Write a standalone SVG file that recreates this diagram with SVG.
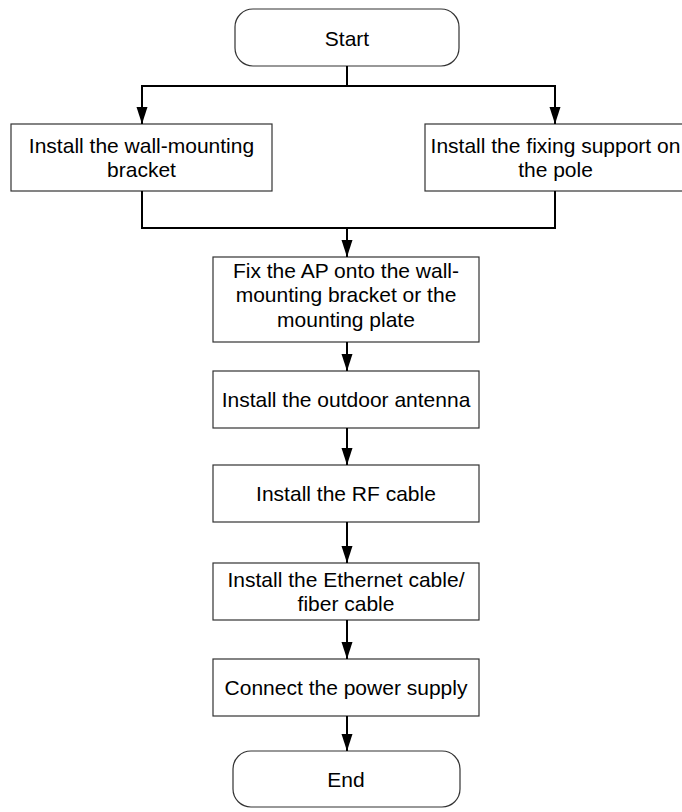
<svg xmlns="http://www.w3.org/2000/svg" width="682" height="812" viewBox="0 0 682 812">
<defs>
<marker id="arr" markerUnits="userSpaceOnUse" markerWidth="18" markerHeight="12" refX="17" refY="5.5" orient="auto">
<path d="M0,0 L17,5.5 L0,11 z" fill="#000"/>
</marker>
<style>
.box{fill:#fff;stroke:#333;stroke-width:1.2}
.t{font-family:"Liberation Sans",Arial,sans-serif;font-size:21px;fill:#000;text-anchor:middle}
.c{fill:none;stroke:#000;stroke-width:2}
</style>
</defs>
<rect width="682" height="812" fill="#fff"/>
<g id="start"><rect class="box" x="235" y="9" width="224" height="57" rx="18"/><text class="t" x="347" y="46">Start</text></g>
<g id="wall"><rect class="box" x="11" y="124" width="261" height="67"/><text class="t" x="141.5" y="153">Install the wall-mounting</text><text class="t" x="141.5" y="177">bracket</text></g>
<g id="pole"><rect class="box" x="425" y="124" width="261" height="67"/><text class="t" x="555.5" y="153">Install the fixing support on</text><text class="t" x="555.5" y="177">the pole</text></g>
<g id="fix"><rect class="box" x="213" y="257" width="266" height="85"/><text class="t" x="346" y="278">Fix the AP onto the wall-</text><text class="t" x="346" y="302">mounting bracket or the</text><text class="t" x="346" y="327">mounting plate</text></g>
<g id="antenna"><rect class="box" x="213" y="371" width="266" height="57"/><text class="t" x="346" y="407">Install the outdoor antenna</text></g>
<g id="rf"><rect class="box" x="213" y="465" width="266" height="57"/><text class="t" x="346" y="501">Install the RF cable</text></g>
<g id="eth"><rect class="box" x="213" y="563" width="266" height="57"/><text class="t" x="346" y="587">Install the Ethernet cable/</text><text class="t" x="346" y="611">fiber cable</text></g>
<g id="power"><rect class="box" x="213" y="659" width="266" height="57"/><text class="t" x="346" y="695">Connect the power supply</text></g>
<g id="end"><rect class="box" x="233" y="751" width="227" height="56" rx="18"/><text class="t" x="346" y="787">End</text></g>
<g id="connectors">
<path class="c" d="M347,66 V86"/>
<path class="c" d="M347,86 H142 V124" marker-end="url(#arr)"/>
<path class="c" d="M347,86 H555 V124" marker-end="url(#arr)"/>
<path class="c" d="M142,191 V228 H555 V191"/>
<path class="c" d="M347,228 V257" marker-end="url(#arr)"/>
<path class="c" d="M347,342 V371" marker-end="url(#arr)"/>
<path class="c" d="M347,428 V465" marker-end="url(#arr)"/>
<path class="c" d="M347,522 V563" marker-end="url(#arr)"/>
<path class="c" d="M347,620 V659" marker-end="url(#arr)"/>
<path class="c" d="M347,716 V751" marker-end="url(#arr)"/>
</g>
</svg>
